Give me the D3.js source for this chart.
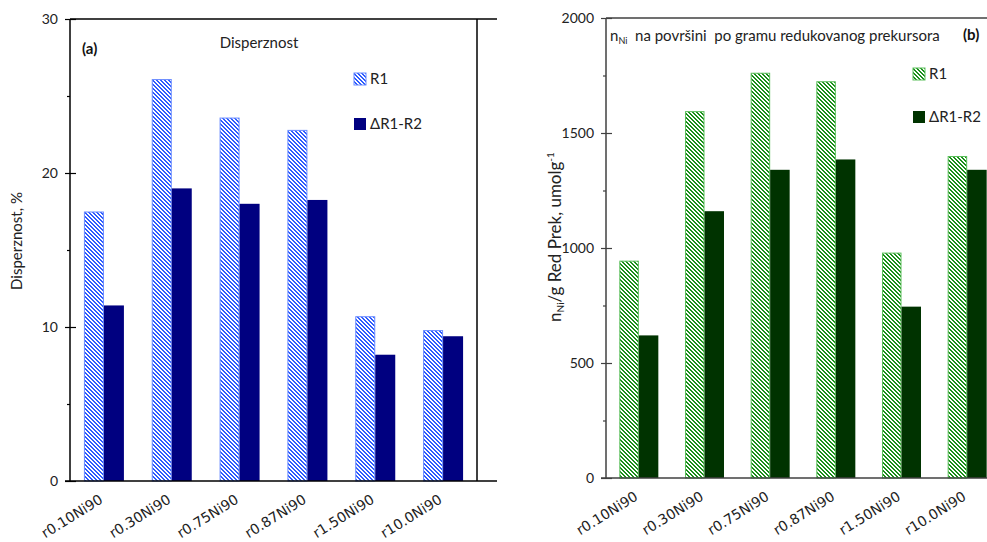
<!DOCTYPE html>
<html><head><meta charset="utf-8">
<script src="https://cdn.jsdelivr.net/npm/d3@7"></script>
<style>
html,body{margin:0;padding:0;background:#fff;overflow:hidden;}
svg{display:block;}
</style></head>
<body>
<svg id="chart" width="987" height="542"></svg>
<script>
// ---- data ----
const categories = ["r0.10Ni90","r0.30Ni90","r0.75Ni90","r0.87Ni90","r1.50Ni90","r10.0Ni90"];
const seriesNames = ["R1","ΔR1-R2"];
const dispR1 = [17.5, 26.1, 23.6, 22.8, 10.7, 9.8];
const dispDelta = [11.4, 19.0, 18.0, 18.25, 8.2, 9.4];
const nNiR1 = [945, 1595, 1762, 1725, 980, 1400];
const nNiDelta = [620, 1160, 1340, 1385, 745, 1340];
const leftMajorTicks = [0, 10, 20, 30];
const leftMinorTicks = [5, 15, 25];
const rightMajorTicks = [0, 500, 1000, 1500, 2000];
const rightMinorTicks = [250, 750, 1250, 1750];

const svg = d3.select("#chart");
const FONT = "Lato, 'Open Sans', sans-serif";
const defs = svg.append("defs");

function stripe(id, color) {
  const p = defs.append("pattern").attr("id", id).attr("patternUnits", "userSpaceOnUse")
    .attr("width", 4).attr("height", 4);
  p.append("rect").attr("width", 4).attr("height", 4).attr("fill", "#fff");
  const cells = [[0,0,2],[1,1,2],[2,2,2],[3,3,1],[0,3,1]];
  cells.forEach(c => p.append("rect").attr("x", c[0]).attr("y", c[1]).attr("width", c[2]).attr("height", 1)
    .attr("fill", color).attr("shape-rendering", "crispEdges"));
}
stripe("blueStripe", "#2e5bff");
stripe("greenStripe", "#1a8f1a");

function panel(cfg) {
  const g = svg.append("g");
  const x0 = d3.scaleBand().domain(categories).range([cfg.left, cfg.right]).padding(0);
  const x1 = d3.scaleBand().domain(seriesNames).range([0, cfg.groupW]).padding(0);
  const y = d3.scaleLinear().domain(cfg.domain).range([cfg.bottom, cfg.top]);
  const off = (x0.bandwidth() - cfg.groupW) / 2;

  // frame
  g.append("line").attr("x1", cfg.left).attr("x2", cfg.right + 20).attr("y1", cfg.top).attr("y2", cfg.top)
    .attr("stroke", cfg.axisColor).attr("stroke-width", 1.5);
  g.append("line").attr("x1", cfg.right).attr("x2", cfg.right).attr("y1", cfg.top).attr("y2", cfg.bottom)
    .attr("stroke", cfg.axisColor).attr("stroke-width", 1.5);

  // bars
  const vals = [cfg.r1, cfg.delta];
  categories.forEach((c, i) => {
    seriesNames.forEach((s, j) => {
      const v = vals[j][i];
      const r = g.append("rect")
        .attr("x", x0(c) + off + x1(s) + (j === 0 ? 0.5 : 0))
        .attr("y", y(v) + (j === 0 ? 0.5 : 0))
        .attr("width", x1.bandwidth() - (j === 0 ? 1 : 0))
        .attr("height", cfg.bottom - y(v) - (j === 0 ? 0.5 : 0));
      if (j === 0) r.attr("fill", `url(#${cfg.pattern})`).attr("stroke", cfg.r1Border).attr("stroke-width", 1);
      else r.attr("fill", cfg.deltaColor);
    });
  });

  // y axis
  const ax = g.append("g").attr("transform", `translate(${cfg.left},0)`)
    .call(d3.axisLeft(y).tickValues(cfg.major).tickSizeInner(5).tickSizeOuter(0).tickPadding(7).tickFormat(d3.format("d")));
  ax.select(".domain").attr("stroke", cfg.axisColor).attr("stroke-width", 1.5)
    .attr("d", `M0,${cfg.top}V${cfg.bottom}`);
  ax.selectAll(".tick line").attr("stroke", cfg.axisColor).attr("stroke-width", 1.2).attr("x1", 6);
  ax.selectAll(".tick text").attr("font-family", FONT).attr("font-size", 14).attr("fill", "#222");
  const mi = g.append("g").attr("transform", `translate(${cfg.left},0)`)
    .call(d3.axisLeft(y).tickValues(cfg.minor).tickSize(3).tickFormat(""));
  mi.select(".domain").remove();
  mi.selectAll(".tick line").attr("stroke", cfg.axisColor).attr("stroke-width", 1.2);

  // x axis
  const bx = g.append("g").attr("transform", `translate(0,${cfg.bottom})`)
    .call(d3.axisBottom(x0).tickSize(0).tickPadding(0));
  bx.select(".domain").attr("stroke", cfg.axisColor).attr("stroke-width", 1.5)
    .attr("d", `M${cfg.left - 5},0H${cfg.right + 20}`);
  bx.selectAll(".tick text")
    .attr("font-family", "'DejaVu Sans', Verdana, sans-serif").attr("font-size", 14).attr("fill", "#222")
    .attr("text-anchor", "end").attr("dy", 0)
    .attr("transform", "translate(0,21) rotate(-32)");

  // legend
  seriesNames.forEach((s, j) => {
    const ly = cfg.legendY[j];
    const r = g.append("rect").attr("x", cfg.legendX).attr("y", ly).attr("width", 12).attr("height", 12);
    if (j === 0) r.attr("fill", `url(#${cfg.pattern})`).attr("stroke", cfg.r1Border).attr("stroke-width", 1);
    else r.attr("fill", cfg.deltaColor);
    g.append("text").attr("x", cfg.legendX + 16).attr("y", ly + 11)
      .attr("font-family", FONT).attr("font-size", 15).attr("fill", "#222").text(s);
  });
  return g;
}

const gA = panel({
  left: 70, right: 477, top: 19, bottom: 481, domain: [0, 30], groupW: 40,
  r1: dispR1, delta: dispDelta, major: leftMajorTicks, minor: leftMinorTicks,
  pattern: "blueStripe", r1Border: "#6b8cff", deltaColor: "#000080", axisColor: "#000",
  legendX: 354, legendY: [73, 118]
});
gA.append("text").attr("x", 82).attr("y", 54).attr("font-family", FONT).attr("font-weight", "bold")
  .attr("font-size", 15).attr("fill", "#111").text("(a)");
gA.append("text").attr("x", 259).attr("y", 48).attr("text-anchor", "middle").attr("font-family", FONT)
  .attr("font-size", 15).attr("fill", "#222").text("Disperznost");
gA.append("text").attr("transform", "translate(22,241) rotate(-90)").attr("text-anchor", "middle")
  .attr("font-family", FONT).attr("font-size", 15).attr("fill", "#222").text("Disperznost, %");

const gB = panel({
  left: 606, right: 1000, top: 18, bottom: 478, domain: [0, 2000], groupW: 39,
  r1: nNiR1, delta: nNiDelta, major: rightMajorTicks, minor: rightMinorTicks,
  pattern: "greenStripe", r1Border: "#5cbf5c", deltaColor: "#003300", axisColor: "#404040",
  legendX: 913, legendY: [68, 111]
});
const t = gB.append("text").attr("x", 610).attr("y", 41).attr("font-family", FONT)
  .attr("font-size", 15).attr("fill", "#222");
t.append("tspan").text("n");
t.append("tspan").attr("font-size", 9).attr("dy", 3).text("Ni");
t.append("tspan").attr("dy", -3).text("\u00a0 na površini \u00a0po gramu redukovanog prekursora");
gB.append("text").attr("x", 963).attr("y", 40).attr("font-family", FONT).attr("font-weight", "bold")
  .attr("font-size", 15).attr("fill", "#111").text("(b)");
const yt = gB.append("text").attr("transform", "translate(561,237) rotate(-90)").attr("text-anchor", "middle")
  .attr("font-family", FONT).attr("font-size", 17).attr("fill", "#222");
yt.append("tspan").text("n");
yt.append("tspan").attr("font-size", 10).attr("dy", 3).text("Ni");
yt.append("tspan").attr("dy", -3).text("/g Red Prek, umolg");
yt.append("tspan").attr("font-size", 10).attr("dy", -7).text("-1");
</script>
</body></html>
